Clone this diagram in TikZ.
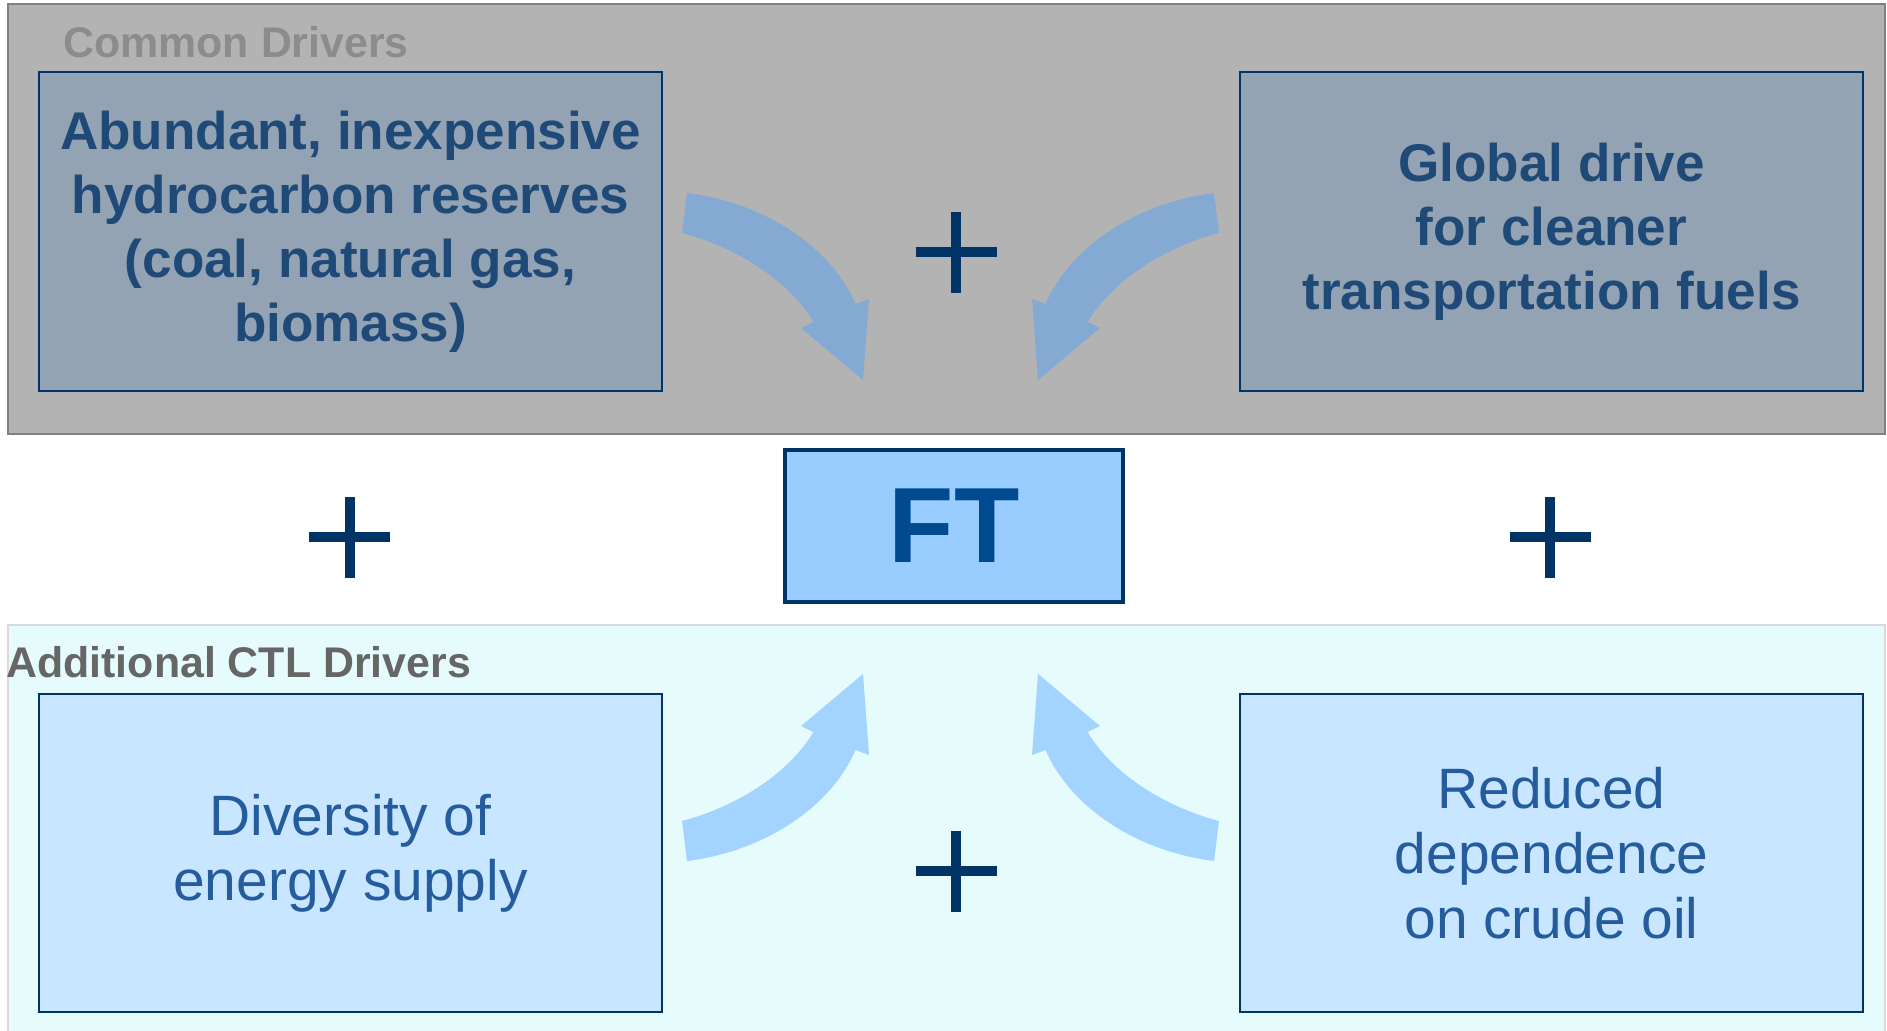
\documentclass[tikz,border=0pt]{standalone}
\usepackage{fontspec}
\setmainfont{Liberation Sans}
\usepackage{tikz}
\usetikzlibrary{positioning}

\definecolor{Navy}{HTML}{003366}
\definecolor{InkBlue}{HTML}{004A90}
\definecolor{CommonShade}{HTML}{B3B3B3}
\definecolor{CommonBox}{HTML}{93A3B3}
\definecolor{CommonArrow}{HTML}{84AAD4}
\definecolor{CommonInk}{HTML}{1F4A78}
\definecolor{CtlShade}{HTML}{E6FBFB}
\definecolor{CtlBox}{HTML}{C8E6FF}
\definecolor{CtlArrow}{HTML}{A2D4FF}
\definecolor{CtlInk}{HTML}{245C9E}
\definecolor{FTFill}{HTML}{99CCFF}

\tikzset{
  driverbox/.style={draw=Navy,line width=0.85pt,minimum width=12.46cm,minimum height=6.38cm,inner sep=0,align=center},
  bandlabel/.style={anchor=west,inner sep=0,font=\fontsize{24.4}{28}\selectfont\bfseries},
  % bent block arrow, tip pointing at the FT box
  curvedarrow/.pic={
    \fill[pic actions] (-5.27,6.68) .. controls (-3.67,6.48) and (-2.37,5.56) .. (-1.90,4.46)
      -- (-1.63,4.56) -- (-1.75,2.94) -- (-2.99,3.98) -- (-2.74,4.10)
      .. controls (-3.25,4.95) and (-4.30,5.60) .. (-5.37,5.88) -- cycle;
  },
  plussign/.pic={
    \draw[Navy,line width=0.2cm] (-0.81,0) -- (0.81,0) (0,-0.81) -- (0,0.81);
  }
}

\begin{document}
\begin{tikzpicture}
 \useasboundingbox (0,0) rectangle (37.74,20.6);

 % the two bands
 \node[draw=gray,fill=CommonShade,line width=1.1pt,minimum width=37.54cm,minimum height=8.6cm,inner sep=0](common) at (18.93,16.22){};
 \node[draw=black!15,fill=CtlShade,line width=1.1pt,minimum width=37.54cm,minimum height=8.4cm,inner sep=0](ctl) at (18.93,3.9){};
 \node[bandlabel,text=black!45](commonlabel) at (1.26,19.76){Common Drivers};
 \node[bandlabel,text=black!60](ctllabel) at (0.12,7.36){Additional CTL Drivers};

 % drivers
 \node[driverbox,fill=CommonBox,text=CommonInk,font=\fontsize{30.2}{36.4}\selectfont\bfseries](reserves) at (7.01,15.97){Abundant, inexpensive\\hydrocarbon reserves\\(coal, natural gas,\\biomass)};
 \node[driverbox,fill=CommonBox,text=CommonInk,font=\fontsize{30.2}{36.4}\selectfont\bfseries](cleaner) at (31.03,15.97){Global drive\\for cleaner\\transportation fuels};
 \node[driverbox,fill=CtlBox,text=CtlInk,minimum height=6.36cm,font=\fontsize{32.4}{37}\selectfont](diversity) at (7.01,3.54){Diversity of\\energy supply};
 \node[driverbox,fill=CtlBox,text=CtlInk,minimum height=6.36cm,font=\fontsize{32.4}{37}\selectfont](crude) at (31.03,3.54){Reduced\\dependence\\on crude oil};

 % arrows into the middle
 \pic[fill=CommonArrow] at (19.01,10.06) {curvedarrow};
 \pic[fill=CommonArrow,xscale=-1] at (19.01,10.06) {curvedarrow};
 \pic[fill=CtlArrow,yscale=-1] at (19.01,10.06) {curvedarrow};
 \pic[fill=CtlArrow,xscale=-1,yscale=-1] at (19.01,10.06) {curvedarrow};

 \pic at (19.12,15.55) {plussign};
 \pic at (6.99,9.86) {plussign};
 \pic at (31.0,9.86) {plussign};
 \pic at (19.12,3.18) {plussign};

 \node[draw=Navy,fill=FTFill,line width=2pt,minimum width=6.76cm,minimum height=3.04cm,text=InkBlue,font=\fontsize{60.9}{70}\selectfont\bfseries](ft) at (19.08,10.08){FT};
\end{tikzpicture}
\end{document}
